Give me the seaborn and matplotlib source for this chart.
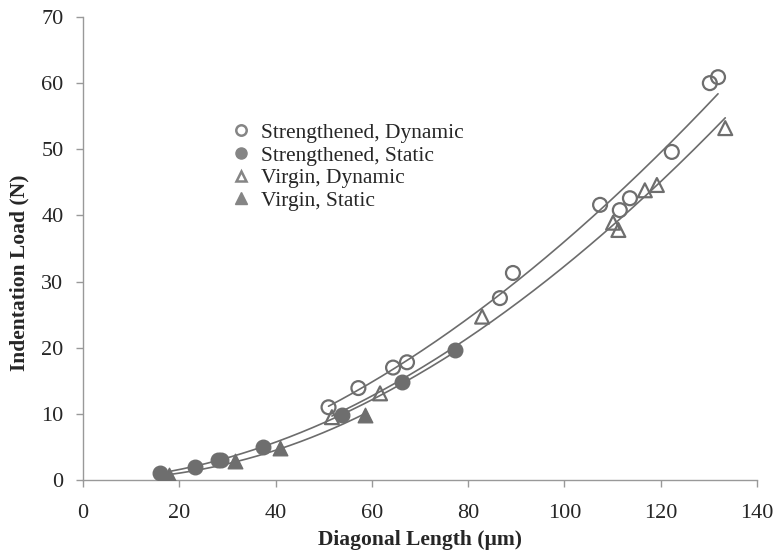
import numpy as np
import pandas as pd
import matplotlib
matplotlib.use("Agg")
import matplotlib.pyplot as plt
from matplotlib.lines import Line2D
import seaborn as sns

# Indentation data: diagonal length (um) vs indentation load (N)
sd_x = [51.0, 57.2, 64.4, 67.3, 86.6, 89.3, 107.4, 111.5, 113.6, 122.3, 130.2, 131.9]
sd_y = [11.0, 13.9, 17.0, 17.8, 27.5, 31.3, 41.6, 40.8, 42.6, 49.6, 60.0, 60.9]

ss_x = [16.0, 23.3, 28.0, 28.6, 37.4, 53.8, 66.3, 77.3]
ss_y = [1.1, 2.0, 3.0, 3.0, 5.0, 9.8, 14.8, 19.7]

vd_x = [51.7, 61.7, 82.9, 110.1, 111.2, 116.7, 119.2, 133.4]
vd_y = [9.5, 13.1, 24.7, 38.9, 37.8, 43.8, 44.6, 53.2]

vs_x = [17.8, 31.6, 40.9, 58.6]
vs_y = [0.8, 2.8, 4.8, 9.8]

labels = ["Strengthened, Dynamic", "Strengthened, Static", "Virgin, Dynamic", "Virgin, Static"]

sns.set_theme(style="white")
plt.rcParams["font.family"] = ["Liberation Serif", "DejaVu Serif"]

GRAY = "#6e6e6e"
LINE = "#6c6c6c"
LEG = "#858585"

fig = plt.figure(figsize=(7.77, 5.55), dpi=100)
ax = fig.add_axes([0.1068, 0.1351, 0.8675, 0.8343])

series = [
    (sd_x, sd_y, "o", False),
    (ss_x, ss_y, "o", True),
    (vd_x, vd_y, "^", False),
    (vs_x, vs_y, "^", True),
]

# power-law trendline for each series over its own data range
for xs, ys, mk, filled in series:
    b, loga = np.polyfit(np.log(xs), np.log(ys), 1)
    xf = np.linspace(min(xs), max(xs), 200)
    fit = pd.DataFrame({"x": xf, "y": np.exp(loga) * xf ** b})
    sns.lineplot(data=fit, x="x", y="y", ax=ax, color=LINE, linewidth=1.2, zorder=2)

for xs, ys, mk, filled in series:
    df = pd.DataFrame({"x": xs, "y": ys})
    if filled:
        sns.scatterplot(data=df, x="x", y="y", ax=ax, marker=mk, s=110,
                        color=GRAY, edgecolor=GRAY, linewidth=1.0, zorder=3)
    else:
        sns.scatterplot(data=df, x="x", y="y", ax=ax, marker=mk, s=100,
                        facecolors="none", edgecolor=GRAY, linewidth=1.6, zorder=3)

ax.set_xlim(0, 140)
ax.set_ylim(0, 70)
ax.set_xticks(range(0, 141, 20))
ax.set_yticks(range(0, 71, 10))
ax.set_xlabel("Diagonal Length (\u00b5m)", fontsize=15.5, fontweight="bold")
ax.set_ylabel("Indentation Load (N)", fontsize=15.5, fontweight="bold")
ax.xaxis.set_label_coords(0.5, -0.108)
ax.yaxis.set_label_coords(-0.079, 0.447)
ax.tick_params(axis="both", labelsize=16, length=5, width=1, color="#999999",
               direction="out", bottom=True, left=True)
ax.tick_params(axis="x", pad=12)
ax.tick_params(axis="y", pad=9)

for side in ("top", "right"):
    ax.spines[side].set_visible(False)
for side in ("left", "bottom"):
    ax.spines[side].set_color("#999999")
    ax.spines[side].set_linewidth(1.0)

handles = [
    Line2D([], [], linestyle="none", marker="o", markersize=7.5, markerfacecolor="none",
           markeredgecolor=LEG, markeredgewidth=1.8),
    Line2D([], [], linestyle="none", marker="o", markersize=8, markerfacecolor=LEG,
           markeredgecolor=LEG),
    Line2D([], [], linestyle="none", marker="^", markersize=7.5, markerfacecolor="none",
           markeredgecolor=LEG, markeredgewidth=1.8),
    Line2D([], [], linestyle="none", marker="^", markersize=8, markerfacecolor=LEG,
           markeredgecolor=LEG),
]
ax.legend(handles, labels, loc="upper left", bbox_to_anchor=(0.212, 0.79),
          frameon=False, fontsize=15.5, handlelength=0.6, handletextpad=0.65,
          labelspacing=0.12, borderaxespad=0)

fig.savefig("out.png", dpi=100)
